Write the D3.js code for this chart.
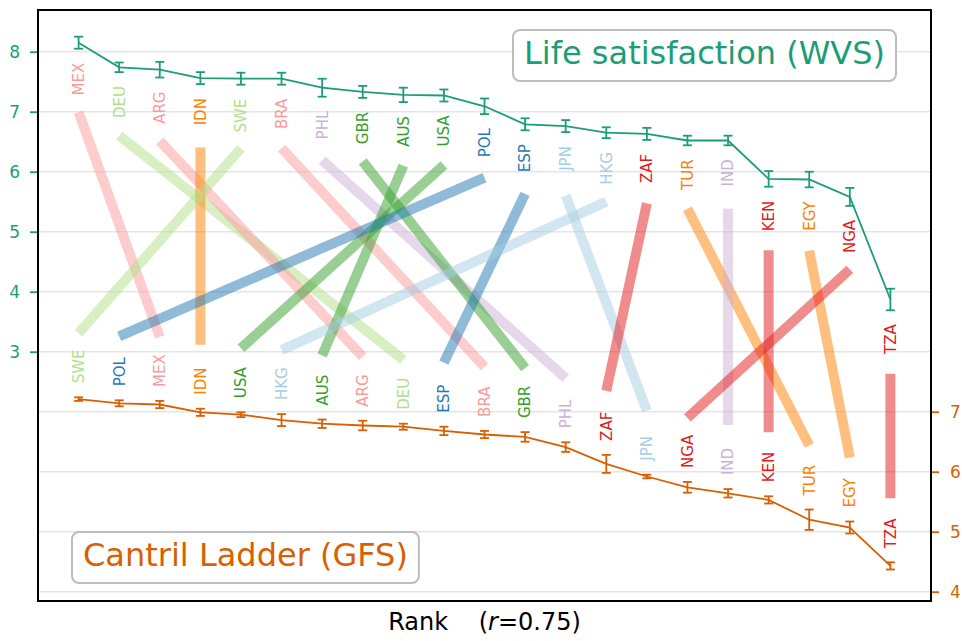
<!DOCTYPE html>
<html>
<head>
<meta charset="utf-8">
<script src="https://cdn.jsdelivr.net/npm/d3@7"></script>
<style>
  body { margin: 0; background: #fff; }
  svg { font-family: "DejaVu Sans", sans-serif; display: block; }
</style>
</head>
<body>
<svg id="chart" width="962" height="641"></svg>
<script>
// WVS ranking (life satisfaction), best first
var wvsCountries = ["MEX","DEU","ARG","IDN","SWE","BRA","PHL","GBR","AUS","USA","POL",
                    "ESP","JPN","HKG","ZAF","TUR","IND","KEN","EGY","NGA","TZA"];
var wvsMean = [8.15,7.74,7.70,7.56,7.55,7.55,7.40,7.33,7.28,7.27,7.09,
               6.79,6.76,6.65,6.63,6.52,6.52,5.88,5.87,5.58,3.87];
var wvsErr  = [0.10,0.08,0.13,0.10,0.10,0.10,0.15,0.10,0.12,0.10,0.13,
               0.10,0.10,0.09,0.10,0.08,0.08,0.13,0.13,0.15,0.18];

// GFS ranking (Cantril ladder), best first
var gfsCountries = ["SWE","POL","MEX","IDN","USA","HKG","AUS","ARG","DEU","ESP","BRA",
                    "GBR","PHL","ZAF","JPN","NGA","IND","KEN","TUR","EGY","TZA"];
var gfsMean = [7.21,7.14,7.12,6.99,6.95,6.86,6.80,6.77,6.75,6.68,6.62,
               6.58,6.41,6.13,5.92,5.74,5.64,5.53,5.20,5.07,4.43];
var gfsErr  = [0.03,0.05,0.06,0.06,0.04,0.10,0.07,0.08,0.05,0.07,0.06,
               0.08,0.08,0.15,0.03,0.09,0.07,0.06,0.17,0.10,0.06];

var leftTicks = [3,4,5,6,7,8];
var rightTicks = [4,5,6,7];
var gridVals = [-1,0,1,2,3,4,5,6,7,8];

// colours per country
var countryColor = {
  MEX:"#fb9a99", ARG:"#fb9a99", BRA:"#fb9a99",
  DEU:"#b2df8a", SWE:"#b2df8a",
  GBR:"#33a02c", AUS:"#33a02c", USA:"#33a02c",
  POL:"#1f78b4", ESP:"#1f78b4",
  JPN:"#a6cee3", HKG:"#a6cee3",
  PHL:"#cab2d6", IND:"#cab2d6",
  IDN:"#ff7f00", TUR:"#ff7f00", EGY:"#ff7f00",
  ZAF:"#e31a1c", KEN:"#e31a1c", NGA:"#e31a1c", TZA:"#e31a1c"
};
var green = "#1b9e77", orange = "#d95f02";

var svg = d3.select("#chart");
var L = 38, R = 931, T = 10, B = 601;

var x = d3.scaleLinear().domain([0, 22]).range([L, R]);
var yL = d3.scaleLinear().domain([-1.155, 8.695]).range([B, T]);
var yR = d3.scaleLinear().domain([3.845, 13.695]).range([B, T]);

// grid
svg.append("g").selectAll("line").data(gridVals).enter().append("line")
  .attr("x1", L).attr("x2", R)
  .attr("y1", function(d){ return yL(d); }).attr("y2", function(d){ return yL(d); })
  .attr("stroke", "#e5e5e5").attr("stroke-width", 1.6);

// slope lines between the two rankings
var slopes = wvsCountries.map(function(c, i){
  var j = gfsCountries.indexOf(c);
  return {c: c,
          x1: x(i + 1), y1: yL(wvsMean[i] - wvsErr[i]) + 63.5,
          x2: x(j + 1), y2: yR(gfsMean[j] + gfsErr[j]) - 64};
});
svg.append("g").selectAll("line").data(slopes).enter().append("line")
  .attr("x1", function(d){ return d.x1; }).attr("y1", function(d){ return d.y1; })
  .attr("x2", function(d){ return d.x2; }).attr("y2", function(d){ return d.y2; })
  .attr("stroke", function(d){ return countryColor[d.c]; })
  .attr("stroke-opacity", 0.5).attr("stroke-width", 10);

function series(names, means, errs, y, col, below) {
  var pts = names.map(function(c, i){
    return {c: c, x: x(i + 1), m: means[i], e: errs[i]};
  });
  var g = svg.append("g");
  g.append("path").datum(pts)
    .attr("d", d3.line().x(function(d){ return d.x; }).y(function(d){ return y(d.m); }))
    .attr("fill", "none").attr("stroke", col).attr("stroke-width", 1.8);
  var eb = g.selectAll("g.eb").data(pts).enter().append("g")
    .attr("stroke", col).attr("stroke-width", 1.8);
  eb.append("line").attr("x1", function(d){ return d.x; }).attr("x2", function(d){ return d.x; })
    .attr("y1", function(d){ return y(d.m - d.e); }).attr("y2", function(d){ return y(d.m + d.e); });
  [-1, 1].forEach(function(s){
    eb.append("line").attr("x1", function(d){ return d.x - 4.5; }).attr("x2", function(d){ return d.x + 4.5; })
      .attr("y1", function(d){ return y(d.m + s * d.e); }).attr("y2", function(d){ return y(d.m + s * d.e); });
  });
  g.selectAll("text").data(pts).enter().append("text")
    .attr("transform", function(d){
      var ty = below ? y(d.m - d.e) + 14 : y(d.m + d.e) - 14;
      return "translate(" + d.x + "," + ty + ") rotate(-90)";
    })
    .attr("text-anchor", below ? "end" : "start")
    .attr("dy", "0.36em")
    .attr("font-size", 15)
    .attr("fill", function(d){ return countryColor[d.c]; })
    .text(function(d){ return d.c; });
}
series(wvsCountries, wvsMean, wvsErr, yL, green, true);
series(gfsCountries, gfsMean, gfsErr, yR, orange, false);

// axes
var axL = svg.append("g").attr("transform", "translate(" + L + ",0)")
  .call(d3.axisLeft(yL).tickValues(leftTicks).tickSize(8).tickPadding(10).tickFormat(d3.format("d")));
axL.select(".domain").remove();
axL.selectAll("line").attr("stroke", green).attr("stroke-width", 1.8);
axL.selectAll("text").attr("fill", green).attr("font-size", 17).attr("font-family", "DejaVu Sans");

var axR = svg.append("g").attr("transform", "translate(" + R + ",0)")
  .call(d3.axisRight(yR).tickValues(rightTicks).tickSize(8).tickPadding(11).tickFormat(d3.format("d")));
axR.select(".domain").remove();
axR.selectAll("line").attr("stroke", orange).attr("stroke-width", 1.8);
axR.selectAll("text").attr("fill", orange).attr("font-size", 17).attr("font-family", "DejaVu Sans");

// frame
svg.append("rect").attr("x", L).attr("y", T).attr("width", R - L).attr("height", B - T)
  .attr("fill", "none").attr("stroke", "#000").attr("stroke-width", 2);

// boxed titles
function boxed(txt, tx, ty, anchor, col) {
  var g = svg.append("g");
  var t = g.append("text").attr("x", tx).attr("y", ty).attr("text-anchor", anchor)
    .attr("font-size", 32).attr("fill", col).text(txt);
  var bb = t.node().getBBox();
  g.insert("rect", "text")
    .attr("x", bb.x - 11).attr("y", ty - 34)
    .attr("width", bb.width + 22).attr("height", 51)
    .attr("rx", 7).attr("fill", "#fff").attr("fill-opacity", 0.85)
    .attr("stroke", "#bdbdbd").attr("stroke-width", 2);
}
boxed("Life satisfaction (WVS)", 885, 64, "end", green);
boxed("Cantril Ladder (GFS)", 83, 566, "start", orange);

// x label
var xl = svg.append("text").attr("x", (L + R) / 2).attr("y", 630)
  .attr("text-anchor", "middle").attr("font-size", 24).style("white-space", "pre");
xl.append("tspan").text("Rank    (");
xl.append("tspan").attr("font-style", "italic").text("r");
xl.append("tspan").text("=0.75)");
</script>
</body>
</html>
